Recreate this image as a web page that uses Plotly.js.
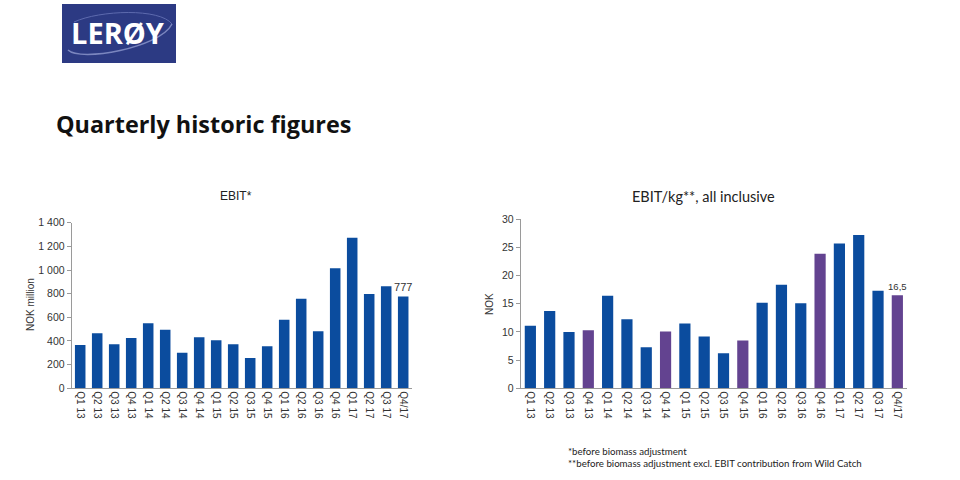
<!DOCTYPE html>
<html>
<head>
<meta charset="utf-8">
<script src="https://cdn.plot.ly/plotly-3.0.1.min.js"></script>
<style>html,body{margin:0;padding:0;background:#fff;}#chart{width:960px;height:480px;}</style>
</head>
<body>
<div id="chart"></div>
<script>
// ---- data ----
const quarters = ["Q1 13","Q2 13","Q3 13","Q4 13","Q1 14","Q2 14","Q3 14","Q4 14","Q1 15","Q2 15","Q3 15","Q4 15","Q1 16","Q2 16","Q3 16","Q4 16","Q1 17","Q2 17","Q3 17","Q4/17"];
const ebit = [366,465,372,425,549,496,301,431,406,372,256,355,580,758,482,1014,1273,797,862,777];
const ebitPerKg = [11.1,13.7,10.0,10.3,16.45,12.25,7.3,10.1,11.5,9.2,6.2,8.5,15.2,18.4,15.1,23.9,25.7,27.2,17.3,16.5];
const isQ4 = quarters.map(q => q.startsWith("Q4"));
const ebitTicks = [0,200,400,600,800,1000,1200,1400];
const ebitTickText = ["0","200","400","600","800","1 000","1 200","1 400"];
const kgTicks = [0,5,10,15,20,25,30];

const BLUE = "#0b4c9e", PURPLE = "#634390";
const px = x => x/960, py = y => 1 - y/480;

const lastOnly = (arr, fmt) => arr.map((v,i) => i === arr.length-1 ? fmt(v) : "");

const traces = [
  {type:"bar", x:quarters, y:ebit, xaxis:"x", yaxis:"y", width:0.62,
   marker:{color:BLUE}, text:lastOnly(ebit, v => String(v)), textposition:"outside", constraintext:"none",
   textfont:{family:"Liberation Sans, Arial", size:11, color:"#333"}, cliponaxis:false, hoverinfo:"x+y"},
  {type:"bar", x:quarters, y:ebitPerKg, xaxis:"x2", yaxis:"y2", width:0.58,
   marker:{color:isQ4.map(q => q ? PURPLE : BLUE)},
   text:lastOnly(ebitPerKg, v => String(v).replace(".",",")), textposition:"outside", constraintext:"none",
   textfont:{family:"Liberation Sans, Arial", size:9.5, color:"#333"}, cliponaxis:false, hoverinfo:"x+y"}
];

const axisCommonX = {type:"category", range:[-0.5,19.5], showline:true, linecolor:"#9a9a9a", linewidth:1,
  ticks:"", tickangle:90, tickfont:{family:"Liberation Sans, Arial", size:10, color:"#333"},
  showgrid:false, zeroline:false, fixedrange:true};
const axisCommonY = {showline:true, linecolor:"#9a9a9a", linewidth:1, ticks:"outside", ticklen:4,
  tickcolor:"#9a9a9a", tickfont:{family:"Liberation Sans, Arial", size:10.5, color:"#333"},
  showgrid:false, zeroline:false, fixedrange:true};

const layout = {
  width:960, height:480, margin:{l:0,r:0,t:0,b:0}, paper_bgcolor:"#fff", plot_bgcolor:"#fff",
  showlegend:false, barmode:"group",
  xaxis: Object.assign({}, axisCommonX, {domain:[px(71.7), px(411.7)], anchor:"y"}),
  yaxis: Object.assign({}, axisCommonY, {domain:[py(388.3), py(222.7)], range:[0,1400], anchor:"x",
         tickvals:ebitTicks, ticktext:ebitTickText}),
  xaxis2: Object.assign({}, axisCommonX, {domain:[px(520.7), px(907)], anchor:"y2"}),
  yaxis2: Object.assign({}, axisCommonY, {domain:[py(388.3), py(219.3)], range:[0,30], anchor:"x2",
         tickvals:kgTicks}),
  shapes:[
    {type:"rect", xref:"paper", yref:"paper", x0:px(62), x1:px(176), y0:py(63), y1:py(4),
     fillcolor:"#2c3a83", line:{width:0}, layer:"below"},
    {type:"path", xref:"paper", yref:"paper",
     path:`M ${px(68)} ${py(50)} C ${px(80)} ${py(62)}, ${px(160)} ${py(48)}, ${px(172)} ${py(24)}`,
     line:{color:"#7b86bf", width:1.5}},
    {type:"path", xref:"paper", yref:"paper",
     path:`M ${px(74)} ${py(22)} C ${px(100)} ${py(10)}, ${px(160)} ${py(8)}, ${px(172)} ${py(24)}`,
     line:{color:"#5d6aae", width:1}}
  ],
  annotations:[
    {xref:"paper", yref:"paper", x:px(118), y:py(33), text:"<b>LERØY</b>", showarrow:false,
     font:{family:"Open Sans, Liberation Sans", size:29, color:"#fff"}, xanchor:"center", yanchor:"middle"},
    {xref:"paper", yref:"paper", x:px(54), y:py(124), text:"<b>Quarterly historic figures</b>", showarrow:false,
     font:{family:"Open Sans, Noto Sans", size:23.4, color:"#111"}, xanchor:"left", yanchor:"middle"},
    {xref:"paper", yref:"paper", x:px(236), y:py(196), text:"EBIT*", showarrow:false,
     font:{family:"Liberation Sans, Arial", size:12, color:"#222"}, xanchor:"center", yanchor:"middle"},
    {xref:"paper", yref:"paper", x:px(703), y:py(196), text:"EBIT/kg**, all inclusive", showarrow:false,
     font:{family:"Lato, Noto Sans", size:14.5, color:"#222"}, xanchor:"center", yanchor:"middle"},
    {xref:"paper", yref:"paper", x:px(30), y:py(305), text:"NOK million", textangle:-90, showarrow:false,
     font:{family:"Liberation Sans, Arial", size:10, color:"#333"}, xanchor:"center", yanchor:"middle"},
    {xref:"paper", yref:"paper", x:px(489), y:py(304), text:"NOK", textangle:-90, showarrow:false,
     font:{family:"Liberation Sans, Arial", size:10, color:"#333"}, xanchor:"center", yanchor:"middle"},
    {xref:"paper", yref:"paper", x:px(566), y:py(451), text:"*before biomass adjustment", showarrow:false,
     font:{family:"Lato, Noto Sans", size:9.7, color:"#222"}, xanchor:"left", yanchor:"middle"},
    {xref:"paper", yref:"paper", x:px(566), y:py(463), text:"**before biomass adjustment excl. EBIT contribution from Wild Catch", showarrow:false,
     font:{family:"Lato, Noto Sans", size:9.7, color:"#222"}, xanchor:"left", yanchor:"middle"}
  ]
};

Plotly.newPlot("chart", traces, layout, {staticPlot:true, displayModeBar:false});
</script>
</body>
</html>
